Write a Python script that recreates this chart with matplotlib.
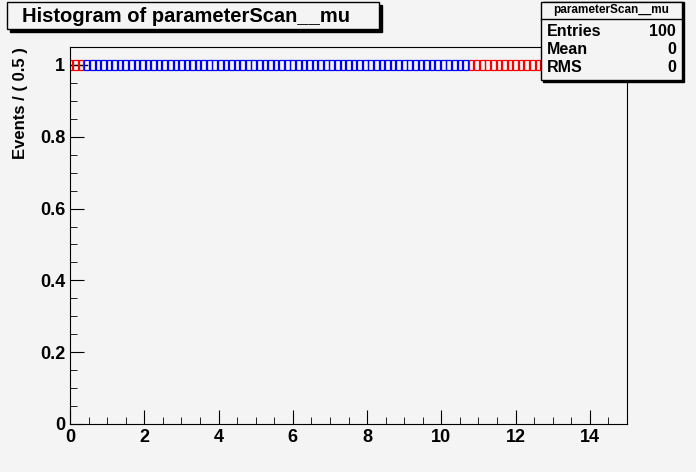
import matplotlib
matplotlib.use("Agg")
import matplotlib.pyplot as plt
import numpy as np
from matplotlib.patches import Rectangle

plt.rcParams['font.family'] = ['Liberation Sans', 'DejaVu Sans']

mu_values = np.linspace(0.0, 14.85, 100)
events = [1.0] * 100
red_start_count = 3
red_from_mu = 10.7
stats_labels = ["Entries", "Mean", "RMS"]
stats_values = ["100", "0", "0"]

bg = "#f4f4f4"
fig = plt.figure(figsize=(6.96, 4.72), dpi=100, facecolor=bg)
ax = fig.add_axes([70/696, 1-424/472, 557/696, 377/472], facecolor=bg)

rect_marker = [(-0.5, -1), (0.5, -1), (0.5, 1), (-0.5, 1), (-0.5, -1)]
cols = ["red" if (i < red_start_count or m >= red_from_mu) else "blue" for i, m in enumerate(mu_values)]
ax.plot([0, 0.45], [1, 1], color="black", lw=1, zorder=1)
for c in ("red", "blue"):
    xs = [m for m, cc in zip(mu_values, cols) if cc == c]
    ys = [e for e, cc in zip(events, cols) if cc == c]
    ax.scatter(xs, ys, marker=rect_marker, s=45, facecolors="none", edgecolors=c, linewidths=0.9, zorder=2)

ax.set_xlim(0, 15)
ax.set_ylim(0, 1.05)
ax.set_xticks(range(0, 15, 2))
ax.set_xticks(np.arange(0, 15.01, 0.5), minor=True)
ax.set_yticks([0, 0.2, 0.4, 0.6, 0.8, 1])
ax.set_yticklabels(["0", "0.2", "0.4", "0.6", "0.8", "1"])
ax.set_yticks(np.arange(0, 1.05, 0.05), minor=True)
ax.tick_params(which="major", length=10, direction="in", labelsize=13)
ax.tick_params(which="minor", length=5, direction="in")
for lab in ax.get_xticklabels() + ax.get_yticklabels():
    lab.set_fontweight("bold")
ax.set_ylabel("Events / ( 0.5 )", fontsize=12, fontweight="bold", loc="top")
ax.yaxis.set_label_coords(-0.075, 1.0)

# title box
fig.patches.append(Rectangle((10/696, 1-32/472), 372/696, 27/472, transform=fig.transFigure,
                             facecolor="black", edgecolor="black", zorder=5))
fig.patches.append(Rectangle((7/696, 1-29/472), 372/696, 27/472, transform=fig.transFigure,
                             facecolor=bg, edgecolor="black", lw=1, zorder=6))
fig.text(22/696, 1-16/472, "Histogram of parameterScan__mu", fontsize=14.5, fontweight="bold",
         va="center", ha="left", zorder=7)

# stats box
fig.patches.append(Rectangle((543/696, 1-82/472), 141/696, 80/472, transform=fig.transFigure,
                             facecolor="black", edgecolor="black", zorder=5))
fig.patches.append(Rectangle((541/696, 1-80/472), 141/696, 78/472, transform=fig.transFigure,
                             facecolor=bg, edgecolor="black", lw=1, zorder=6))
fig.add_artist(plt.Line2D([541/696, 682/696], [1-19/472, 1-19/472], transform=fig.transFigure,
                          color="black", lw=1, zorder=7))
fig.text(611/696, 1-10/472, "parameterScan__mu", fontsize=8.5, fontweight="bold", ha="center", va="center", zorder=7)
for i, (l, v) in enumerate(zip(stats_labels, stats_values)):
    y = 1 - (31 + i*18.5)/472
    fig.text(547/696, y, l, fontsize=11.5, fontweight="bold", va="center", zorder=7)
    fig.text(676/696, y, v, fontsize=11.5, fontweight="bold", va="center", ha="right", zorder=7)

fig.savefig("out.png", dpi=100, facecolor=bg)
